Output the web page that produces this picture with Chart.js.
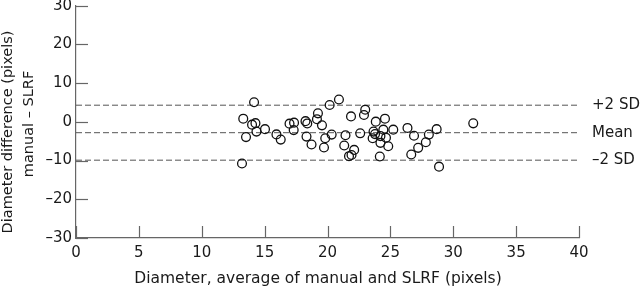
<!DOCTYPE html>
<html>
<head>
<meta charset="utf-8">
<script src="https://cdn.jsdelivr.net/npm/chart.js@4/dist/chart.umd.min.js"></script>
<style>
html,body{margin:0;padding:0;background:#fff;}
#wrap{width:640px;height:289px;}
</style>
</head>
<body>
<div id="wrap"><canvas id="c" width="640" height="289"></canvas></div>
<script>
// Average diameter (x) and difference manual − SLRF (y), pixels
const avgDiameter = [
  14.16, 13.30, 14.00, 14.27, 14.35, 15.03, 13.52, 13.20,
  15.94, 16.28, 16.98, 17.34, 17.31,
  18.25, 18.39, 18.33, 18.73, 19.24, 19.16, 19.56, 19.82, 19.72, 20.17, 20.33,
  20.91, 21.87, 23.00, 22.90, 21.43, 21.33, 22.12, 21.71, 21.91, 22.60,
  23.84, 24.57, 23.66, 23.78, 24.44, 23.59, 24.21, 24.65, 24.21, 24.83, 24.16, 25.23,
  26.36, 26.88, 28.06, 28.68, 27.82, 27.21, 26.66, 28.87, 31.59
];
const diffValues = [
  5.07, 0.82, -0.72, -0.33, -2.52, -1.88, -3.94, -10.75,
  -3.24, -4.58, -0.46, -0.21, -2.13,
  0.18, -0.41, -3.81, -5.86, 2.19, 0.69, -0.90, -4.24, -6.63, 4.35, -3.29,
  5.76, 1.41, 3.14, 1.77, -3.47, -6.12, -7.25, -8.87, -8.56, -2.96,
  0.05, 0.82, -2.52, -3.16, -2.01, -4.24, -3.68, -4.09, -5.43, -6.30, -8.95, -2.01,
  -1.57, -3.60, -3.29, -1.88, -5.27, -6.71, -8.44, -11.57, -0.39
];
const limitValues = [4.3, -2.8, -9.9];
const limitLabels = ['+2 SD', 'Mean', '\u20132 SD'];
const xTicks = [0, 5, 10, 15, 20, 25, 30, 35, 40];
const yTicks = [-30, -20, -10, 0, 10, 20, 30];
const xTitle = 'Diameter, average of manual and SLRF (pixels)';
const yTitle = ['Diameter difference (pixels)', 'manual \u2013 SLRF'];

const FONT = '"DejaVu Sans", "Liberation Sans", Arial, sans-serif';
const TXT = '#1a1a1a';
const AX = '#666';

const deco = {
  id: 'deco',
  afterDraw(chart) {
    const {ctx, chartArea: a, scales: {x, y}} = chart;
    ctx.save();
    ctx.strokeStyle = AX;
    ctx.lineWidth = 1.2;
    xTicks.forEach(v => {
      const px = Math.round(x.getPixelForValue(v)) + 0.5;
      ctx.beginPath(); ctx.moveTo(px, a.bottom); ctx.lineTo(px, a.bottom - 12); ctx.stroke();
    });
    yTicks.forEach(v => {
      const py = Math.round(y.getPixelForValue(v)) + 0.5;
      ctx.beginPath(); ctx.moveTo(a.left, py); ctx.lineTo(a.left + 12, py); ctx.stroke();
    });
    ctx.fillStyle = TXT;
    ctx.textBaseline = 'middle';
    ctx.textAlign = 'left';
    ctx.font = '15px ' + FONT;
    limitValues.forEach((v, i) => {
      ctx.fillText(limitLabels[i], a.right + 13, y.getPixelForValue(v));
    });
    ctx.textAlign = 'center';
    ctx.font = '15.5px ' + FONT;
    ctx.fillText(xTitle, 318, 279);
    ctx.font = '14.5px ' + FONT;
    ctx.save();
    ctx.translate(8, 132); ctx.rotate(-Math.PI / 2);
    ctx.fillText(yTitle[0], 0, 0);
    ctx.restore();
    ctx.save();
    ctx.translate(29, 124); ctx.rotate(-Math.PI / 2);
    ctx.fillText(yTitle[1], 0, 0);
    ctx.restore();
    ctx.restore();
  }
};

const limitSets = limitValues.map(v => ({
  type: 'line',
  data: [{x: xTicks[0], y: v}, {x: xTicks[xTicks.length - 1], y: v}],
  borderColor: '#555',
  borderWidth: 1,
  borderDash: [6, 3],
  pointRadius: 0,
  fill: false,
  order: 2
}));

new Chart(document.getElementById('c'), {
  type: 'scatter',
  data: {
    datasets: [{
      data: avgDiameter.map((v, i) => ({x: v, y: diffValues[i]})),
      pointStyle: 'circle',
      pointRadius: 4.4,
      pointHoverRadius: 4.4,
      borderColor: '#111',
      borderWidth: 1.3,
      backgroundColor: 'rgba(0,0,0,0)',
      order: 1
    }, ...limitSets]
  },
  options: {
    responsive: false,
    animation: false,
    devicePixelRatio: 1,
    layout: {padding: {top: 5, right: 61, left: 0, bottom: 0}},
    plugins: {legend: {display: false}, tooltip: {enabled: false}},
    scales: {
      x: {
        type: 'linear', min: 0, max: 40,
        grid: {display: false, drawTicks: false},
        border: {display: true, color: AX, width: 1.2},
        afterBuildTicks: s => { s.ticks = xTicks.map(v => ({value: v})); },
        afterFit: s => { s.height = 51; s.paddingLeft = 0; s.paddingRight = 0; },
        ticks: {color: TXT, font: {family: FONT, size: 15}, padding: 6, maxRotation: 0, autoSkip: false}
      },
      y: {
        type: 'linear', min: -30, max: 30,
        grid: {display: false, drawTicks: false},
        border: {display: true, color: AX, width: 1.2},
        afterBuildTicks: s => { s.ticks = yTicks.map(v => ({value: v})); },
        afterFit: s => { s.width = 76; s.paddingTop = 0; s.paddingBottom = 0; },
        ticks: {
          color: TXT, font: {family: FONT, size: 15}, padding: 4, autoSkip: false,
          callback: v => String(v).replace('-', '\u2013')
        }
      }
    }
  },
  plugins: [deco]
});
</script>
</body>
</html>
